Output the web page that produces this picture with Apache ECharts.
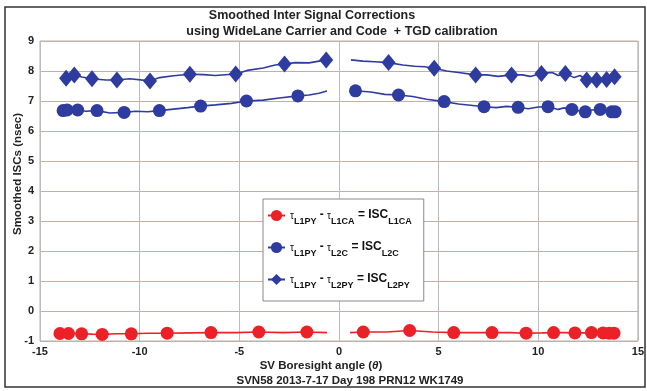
<!DOCTYPE html>
<html><head><meta charset="utf-8">
<script src="https://cdn.jsdelivr.net/npm/echarts@6/dist/echarts.min.js"></script>
<style>html,body{margin:0;padding:0;background:#fff}#c{width:647px;height:391px}</style>
</head><body><div id="c"></div>
<script>
// ---- data ----
// tau_L1PY - tau_L1CA (red circles)
const l1caMarkX = [-14.0,-13.57,-12.91,-11.88,-10.42,-8.62,-6.42,-4.02,-1.61, 1.22,3.55,5.76,7.68,9.39,10.77,11.84,12.67,13.25,13.56,13.8];
const l1caMarkY = [-0.75,-0.75,-0.76,-0.78,-0.76,-0.74,-0.72,-0.70,-0.70, -0.70,-0.65,-0.72,-0.72,-0.74,-0.72,-0.73,-0.72,-0.73,-0.74,-0.74];
const l1caLineX = [-13.2,-12.4,-11.2,-9.6,-7.5,-5.2,-2.8,-0.6, 0.56,2.4,4.7,6.8,8.6,10.2,11.3,12.3];
const l1caLineY = [-0.75,-0.77,-0.76,-0.74,-0.73,-0.72,-0.72,-0.72, -0.72,-0.70,-0.70,-0.72,-0.72,-0.73,-0.72,-0.73];
// tau_L1PY - tau_L2C (blue circles)
const l2cMarkX = [-13.84,-13.64,-13.11,-12.14,-10.78,-9.01,-6.94,-4.64,-2.06, 0.83,2.99,5.28,7.28,8.99,10.49,11.69,12.36,13.11,13.69,13.86];
const l2cMarkY = [6.68,6.70,6.70,6.68,6.62,6.68,6.83,7.00,7.17, 7.34,7.20,6.98,6.81,6.79,6.81,6.72,6.64,6.72,6.64,6.64];
const l2cLineX = [-12.7,-11.5,-10.2,-9.6,-8.3,-7.6,-6.2,-5.4,-3.8,-3.0,-1.5,-1.0,-0.6, 1.6,2.3,3.7,4.4,6.0,6.6,7.9,8.4,9.5,10.0,11.0,11.3,12.0,12.7,13.4];
const l2cLineY = [6.66,6.60,6.66,6.64,6.73,6.78,6.87,6.92,7.03,7.10,7.20,7.26,7.33, 7.30,7.22,7.15,7.06,6.90,6.86,6.78,6.82,6.74,6.80,6.72,6.77,6.68,6.70,6.66];
// tau_L1PY - tau_L2PY (blue diamonds)
const l2pyMarkX = [-13.69,-13.28,-12.39,-11.14,-9.48,-7.48,-5.18,-2.73,-0.64, 2.49,4.78,6.86,8.66,10.16,11.36,12.43,12.93,13.43,13.83];
const l2pyMarkY = [7.76,7.87,7.74,7.70,7.67,7.89,7.90,8.23,8.37, 8.28,8.09,7.87,7.87,7.92,7.92,7.70,7.70,7.72,7.81];
const l2pyLineX = [-12.9,-11.7,-10.5,-9.0,-8.3,-6.8,-6.2,-4.6,-3.8,-3.2,-2.2,-1.5,-1.0, 0.6,1.2,1.8,3.2,3.8,4.3,5.4,6.0,7.4,8.0,9.2,9.6,10.7,11.0,11.8,12.1];
const l2pyLineY = [7.80,7.70,7.74,7.78,7.84,7.88,7.85,8.02,8.10,8.20,8.28,8.27,8.33, 8.37,8.33,8.31,8.20,8.16,8.14,8.00,7.95,7.87,7.82,7.87,7.82,7.95,7.85,7.78,7.85];
// ---- end data ----

function build(mx, my, lx, ly){
  const pts = [];
  mx.forEach((x,i)=>pts.push({x:x,y:my[i],m:true}));
  lx.forEach((x,i)=>pts.push({x:x,y:ly[i],m:false}));
  pts.sort((a,b)=>a.x-b.x);
  const out = [];
  let gapDone = false;
  pts.forEach(p=>{
    if(!gapDone && p.x>0){ out.push({value:[0,'-'], symbol:'none'}); gapDone=true; }
    out.push(p.m ? {value:[p.x,p.y]} : {value:[p.x,p.y], symbol:'none'});
  });
  return out;
}
const RED = '#ec2027', BLUE = '#2e3c9f';
const names = ['L1CA','L2C','L2PY'];
const chart = echarts.init(document.getElementById('c'), null, {renderer:'canvas'});
const FONT = "'Liberation Sans', Arial, sans-serif";
chart.setOption({
  animation:false,
  backgroundColor:'#fff',
  grid:{left:40,right:6,top:41,bottom:50,show:true,borderColor:'#b8b0ac',borderWidth:1,backgroundColor:'#fff'},
  xAxis:{type:'value',min:-15,max:15,interval:5,
    axisLine:{show:false},axisTick:{show:false},
    axisLabel:{color:'#222',fontWeight:'bold',fontSize:11,fontFamily:FONT,margin:5},
    splitLine:{show:true,lineStyle:{color:'#bdbdbd',width:1}}},
  yAxis:{type:'value',min:-1,max:9,interval:1,
    axisLine:{show:false},axisTick:{show:false},
    axisLabel:{color:'#222',fontWeight:'bold',fontSize:11,fontFamily:FONT,margin:6},
    splitLine:{show:true,lineStyle:{color:'#c9ada2',width:1}}},
  legend:{orient:'vertical',left:263,top:199,padding:[10,12,11,4],itemGap:15,
    itemWidth:17,itemHeight:14,
    backgroundColor:'#fff',borderColor:'#888',borderWidth:1,
    data:names,
    formatter:function(n){
      return '{a|τ}{b|L1PY}{c| - }{a|τ}{b|'+n+'}{c| = ISC}{b|'+n+'}';
    },
    textStyle:{color:'#111',fontFamily:FONT,fontWeight:'bold',
      rich:{
        a:{fontSize:10,fontWeight:'normal',lineHeight:12,verticalAlign:'top',padding:[2,0,0,0],fontFamily:FONT,color:'#111'},
        b:{fontSize:9,fontWeight:'bold',lineHeight:10,padding:[8,0,0,0],verticalAlign:'top',fontFamily:FONT,color:'#111'},
        c:{fontSize:12,fontWeight:'bold',lineHeight:13,verticalAlign:'top',fontFamily:FONT,color:'#111'}
      }}
  },
  series:[
    {name:'L1CA',type:'line',data:build(l1caMarkX,l1caMarkY,l1caLineX,l1caLineY),
      symbol:'circle',symbolSize:13,showSymbol:true,connectNulls:false,
      lineStyle:{color:RED,width:1.6},itemStyle:{color:RED}},
    {name:'L2C',type:'line',data:build(l2cMarkX,l2cMarkY,l2cLineX,l2cLineY),
      symbol:'circle',symbolSize:13,showSymbol:true,connectNulls:false,
      lineStyle:{color:BLUE,width:1.6},itemStyle:{color:BLUE}},
    {name:'L2PY',type:'line',data:build(l2pyMarkX,l2pyMarkY,l2pyLineX,l2pyLineY),
      symbol:'diamond',symbolSize:[14,17],showSymbol:true,connectNulls:false,
      lineStyle:{color:BLUE,width:1.6},itemStyle:{color:BLUE}}
  ],
  graphic:[
    {type:'rect',shape:{x:5,y:7,width:640,height:380},style:{fill:null,stroke:'#333',lineWidth:1.5},silent:true},
    {type:'text',x:312,y:16,style:{text:'Smoothed Inter Signal Corrections',font:"bold 12.5px 'Liberation Sans', Arial, sans-serif",fill:'#222',textAlign:'center',textVerticalAlign:'middle'}},
    {type:'text',x:342,y:32,style:{text:'using WideLane Carrier and Code  + TGD calibration',font:"bold 12.5px 'Liberation Sans', Arial, sans-serif",fill:'#222',textAlign:'center',textVerticalAlign:'middle'}},
    {type:'text',x:18,y:174,rotation:Math.PI/2,style:{text:'Smoothed ISCs (nsec)',font:"bold 11.5px 'Liberation Sans', Arial, sans-serif",fill:'#222',textAlign:'center',textVerticalAlign:'middle'}},
    {type:'text',x:321,y:366,style:{rich:{n:{font:"bold 11.5px 'Liberation Sans', Arial, sans-serif",fill:'#222'},i:{font:"italic bold 11.5px 'Liberation Sans', Arial, sans-serif",fill:'#222'}},text:'{n|SV Boresight angle (}{i|θ}{n|)}',textAlign:'center',textVerticalAlign:'middle'}},
    {type:'text',x:350,y:381,style:{text:'SVN58 2013-7-17 Day 198 PRN12 WK1749',font:"bold 11.5px 'Liberation Sans', Arial, sans-serif",fill:'#222',textAlign:'center',textVerticalAlign:'middle'}}
  ]
});
</script></body></html>
